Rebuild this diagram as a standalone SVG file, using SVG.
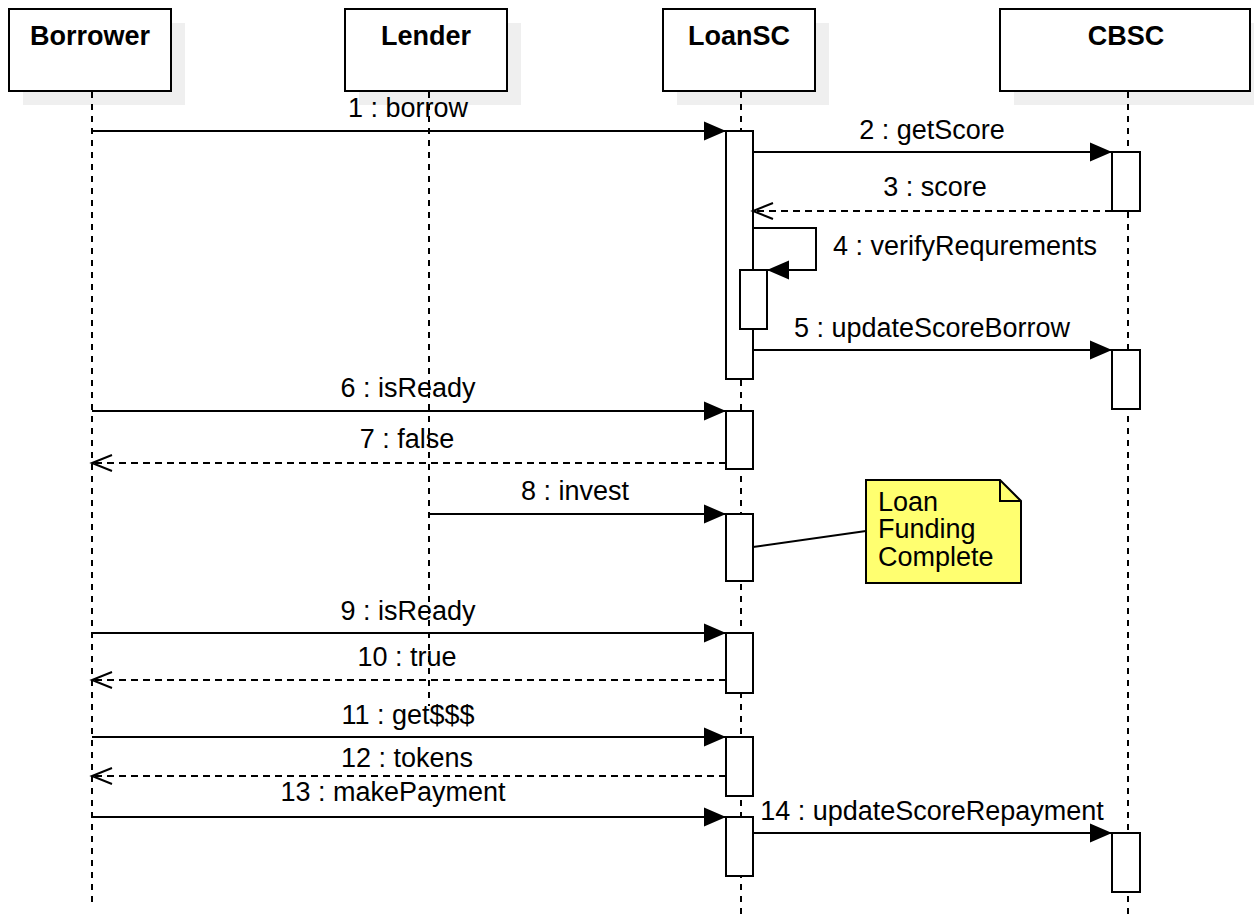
<svg xmlns="http://www.w3.org/2000/svg" width="1254" height="920" viewBox="0 0 1254 920">
  <style>
    .shadow { fill: #efefef; stroke: none; }
    .head { fill: #ffffff; stroke: #000000; stroke-width: 2; }
    .headtxt { font-family: "Liberation Sans", Arial, sans-serif; font-size: 27px; font-weight: bold; fill: #000000; text-anchor: middle; }
    .life { stroke: #000000; stroke-width: 2; stroke-dasharray: 6 6; fill: none; }
    .act { fill: #ffffff; stroke: #000000; stroke-width: 2; }
    .msg { stroke: #000000; stroke-width: 2; fill: none; marker-end: url(#solid); }
    .ret { stroke: #000000; stroke-width: 2; stroke-dasharray: 7 5; fill: none; marker-end: url(#open); }
    .lbl { font-family: "Liberation Sans", Arial, sans-serif; font-size: 27px; fill: #000000; text-anchor: middle; }
    .note { fill: #ffff70; stroke: #000000; stroke-width: 2; }
  </style>
  <defs>
    <marker id="solid" markerUnits="userSpaceOnUse" markerWidth="24" markerHeight="22" refX="22" refY="10" orient="auto">
      <path d="M0,0.5 L22,10 L0,19.5 z" fill="#000000"/>
    </marker>
    <marker id="open" markerUnits="userSpaceOnUse" markerWidth="24" markerHeight="20" refX="21" refY="9" orient="auto">
      <path d="M1,1 L21,9 L1,17" fill="none" stroke="#000000" stroke-width="2"/>
    </marker>
  </defs>

  <rect width="1254" height="920" fill="#ffffff"/>

  <!-- participant heads -->
  <g id="borrower">
    <rect class="shadow" x="23" y="23" width="162" height="82"/>
    <rect class="head" x="9" y="9" width="162" height="82"/>
    <text class="headtxt" x="90" y="45">Borrower</text>
  </g>
  <g id="lender">
    <rect class="shadow" x="359" y="23" width="162" height="82"/>
    <rect class="head" x="345" y="9" width="162" height="82"/>
    <text class="headtxt" x="426" y="45">Lender</text>
  </g>
  <g id="loansc">
    <rect class="shadow" x="677" y="23" width="152" height="82"/>
    <rect class="head" x="663" y="9" width="152" height="82"/>
    <text class="headtxt" x="739" y="45">LoanSC</text>
  </g>
  <g id="cbsc">
    <rect class="shadow" x="1014" y="23" width="250" height="82"/>
    <rect class="head" x="1000" y="9" width="250" height="82"/>
    <text class="headtxt" x="1126" y="45">CBSC</text>
  </g>

  <!-- lifelines -->
  <g id="lifelines">
    <line class="life" x1="92" y1="92" x2="92" y2="906"/>
    <line class="life" x1="429" y1="92" x2="429" y2="706"/>
    <line class="life" x1="741" y1="92" x2="741" y2="920"/>
    <line class="life" x1="1128" y1="92" x2="1128" y2="920"/>
  </g>

  <!-- activation bars -->
  <g id="activations">
    <rect class="act" x="726" y="131" width="27" height="248"/>
    <rect class="act" x="740" y="270" width="27" height="59"/>
    <rect class="act" x="1112" y="152" width="28" height="59"/>
    <rect class="act" x="1112" y="350" width="28" height="59"/>
    <rect class="act" x="726" y="411" width="27" height="58"/>
    <rect class="act" x="726" y="514" width="27" height="67"/>
    <rect class="act" x="726" y="633" width="27" height="60"/>
    <rect class="act" x="726" y="737" width="27" height="59"/>
    <rect class="act" x="726" y="817" width="27" height="59"/>
    <rect class="act" x="1112" y="833" width="28" height="59"/>
  </g>

  <!-- messages -->
  <g id="connectors">
    <line class="msg" x1="92" y1="131" x2="726" y2="131"/>
    <line class="msg" x1="753" y1="152" x2="1112" y2="152"/>
    <line class="ret" x1="1112" y1="211" x2="753" y2="211"/>
    <polyline class="msg" points="753,228 816,228 816,270 767,270"/>
    <line class="msg" x1="753" y1="350" x2="1112" y2="350"/>
    <line class="msg" x1="92" y1="411" x2="726" y2="411"/>
    <line class="ret" x1="726" y1="463" x2="92" y2="463"/>
    <line class="msg" x1="429" y1="514" x2="726" y2="514"/>
    <line class="msg" x1="92" y1="633" x2="726" y2="633"/>
    <line class="ret" x1="726" y1="680" x2="92" y2="680"/>
    <line class="msg" x1="92" y1="737" x2="726" y2="737"/>
    <line class="ret" x1="726" y1="776" x2="92" y2="776"/>
    <line class="msg" x1="92" y1="817" x2="726" y2="817"/>
    <line class="msg" x1="753" y1="833" x2="1112" y2="833"/>
    <line x1="753" y1="547" x2="866" y2="531" stroke="#000000" stroke-width="2"/>
  </g>

  <!-- message labels -->
  <g id="labels">
    <text class="lbl" x="408" y="117">1 : borrow</text>
    <text class="lbl" x="932" y="139">2 : getScore</text>
    <text class="lbl" x="935" y="196">3 : score</text>
    <text class="lbl" x="833" y="255" style="text-anchor:start">4 : verifyRequrements</text>
    <text class="lbl" x="932" y="337">5 : updateScoreBorrow</text>
    <text class="lbl" x="408" y="397">6 : isReady</text>
    <text class="lbl" x="407" y="448">7 : false</text>
    <text class="lbl" x="575" y="500">8 : invest</text>
    <text class="lbl" x="408" y="620">9 : isReady</text>
    <text class="lbl" x="407" y="666">10 : true</text>
    <text class="lbl" x="408" y="724">11 : get$$$</text>
    <text class="lbl" x="407" y="767">12 : tokens</text>
    <text class="lbl" x="393" y="801">13 : makePayment</text>
    <text class="lbl" x="932" y="820">14 : updateScoreRepayment</text>
  </g>

  <!-- note -->
  <g id="note">
    <path class="note" d="M866,480 L1000,480 L1021,501 L1021,583 L866,583 Z"/>
    <path d="M1000,480 L1000,501 L1021,501" fill="none" stroke="#000000" stroke-width="2"/>
    <text class="lbl" x="878" y="511" style="text-anchor:start">Loan</text>
    <text class="lbl" x="878" y="538" style="text-anchor:start">Funding</text>
    <text class="lbl" x="878" y="566" style="text-anchor:start">Complete</text>
  </g>
</svg>
